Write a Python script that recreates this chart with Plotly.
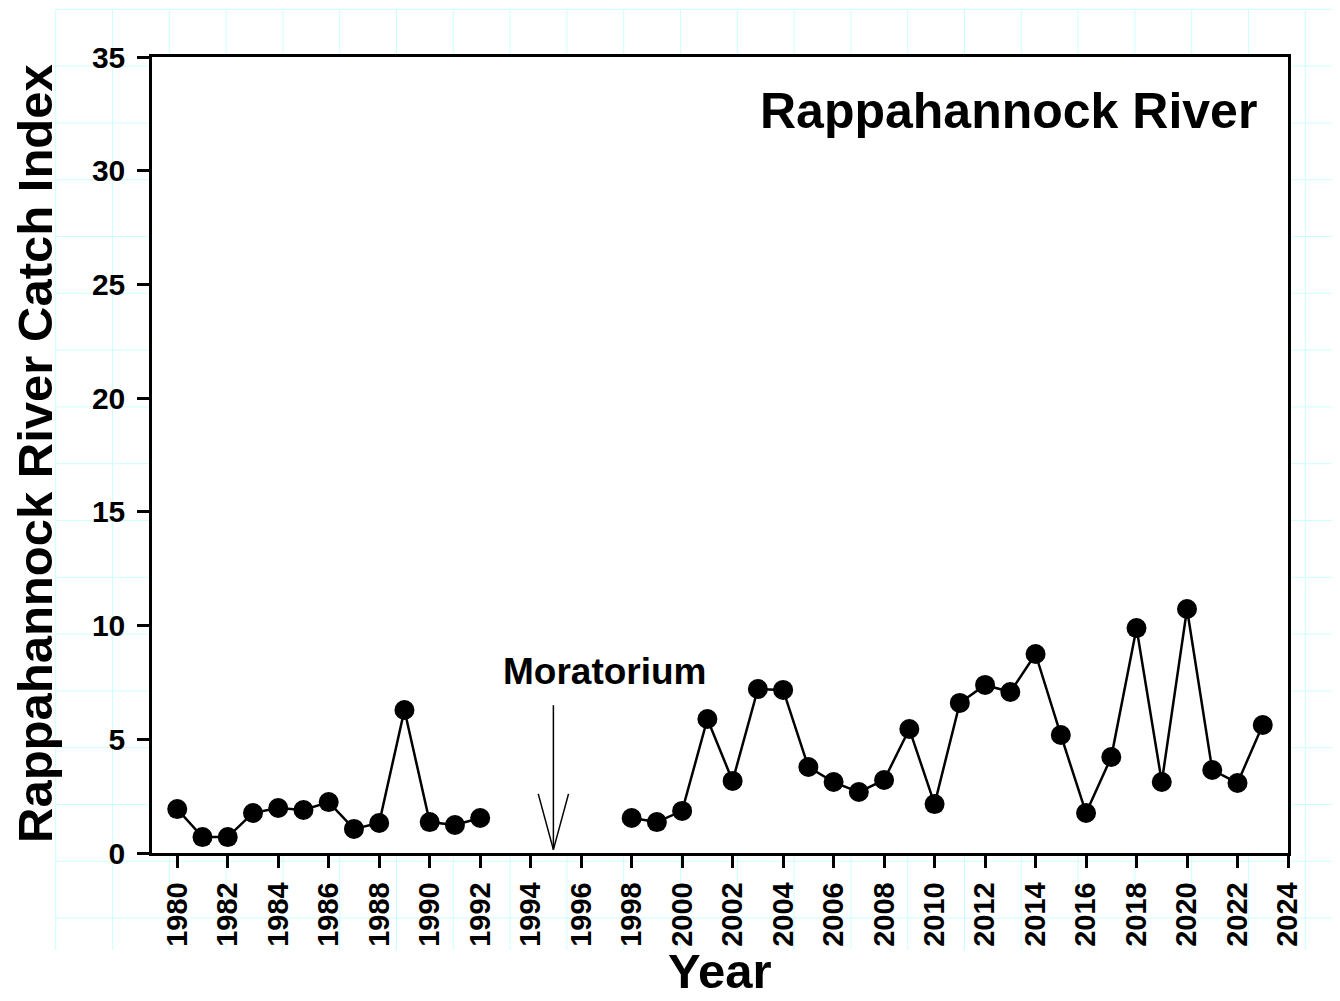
import plotly.graph_objects as go

years = [1980, 1981, 1982, 1983, 1984, 1985, 1986, 1987, 1988, 1989, 1990, 1991, 1992,
         1993, 1998, 1999, 2000, 2001, 2002, 2003, 2004, 2005, 2006, 2007, 2008, 2009,
         2010, 2011, 2012, 2013, 2014, 2015, 2016, 2017, 2018, 2019, 2020, 2021, 2022, 2023]
catch_index = [1.93, 0.70, 0.70, 1.76, 1.98, 1.89, 2.24, 1.06, 1.32, 6.29, 1.36, 1.23, 1.54,
               None, 1.54, 1.36, 1.85, 5.89, 3.17, 7.21, 7.17, 3.78, 3.12, 2.68, 3.21, 5.45,
               2.15, 6.60, 7.39, 7.08, 8.75, 5.19, 1.76, 4.22, 9.89, 3.12, 10.73, 3.65, 3.08, 5.63]

x_ticks = list(range(1980, 2025, 2))
y_ticks = [0, 5, 10, 15, 20, 25, 30, 35]

FONT = "Arial, 'Liberation Sans', sans-serif"
OFF = 8  # page body margin
W, H = 1340 - OFF, 1001 - OFF
# plot area in screen pixels
L, R, T, B = 152, 1288, 57, 853
PW, PH = R - L, B - T


def px_to_paper_x(px):
    return (px - L) / PW


def px_to_paper_y(py):
    return (B - py) / PH


fig = go.Figure()
fig.add_trace(go.Scatter(
    x=years, y=catch_index, mode="lines+markers",
    line=dict(color="black", width=2.5),
    marker=dict(color="black", size=20),
    connectgaps=False, showlegend=False,
))

shapes = []
# page grid (background)
grid_col = "#ccffff"
step = 56.8
gx0, gy0, gx_end, gy_end = 55.7, 9.3, 1340, 950
k = 0
while gx0 + k * step <= 1310:
    px = gx0 + k * step
    shapes.append(dict(type="line", xref="paper", yref="paper", layer="below",
                       x0=px_to_paper_x(px), x1=px_to_paper_x(px),
                       y0=px_to_paper_y(gy0), y1=px_to_paper_y(gy_end),
                       line=dict(color=grid_col, width=1)))
    k += 1
k = 0
while gy0 + k * step <= gy_end:
    py = gy0 + k * step
    shapes.append(dict(type="line", xref="paper", yref="paper", layer="below",
                       x0=px_to_paper_x(gx0), x1=px_to_paper_x(gx_end),
                       y0=px_to_paper_y(py), y1=px_to_paper_y(py),
                       line=dict(color=grid_col, width=1)))
    k += 1
# white plot area over grid
shapes.append(dict(type="rect", xref="paper", yref="paper", layer="below",
                   x0=0, x1=1, y0=0, y1=1, fillcolor="white", line=dict(width=0)))

# Moratorium arrow
ax = 1994.9
shapes.append(dict(type="line", xref="x", yref="y", x0=ax, x1=ax, y0=6.5, y1=0.15,
                   line=dict(color="black", width=1.5)))
shapes.append(dict(type="line", xref="x", yref="y", x0=ax - 0.6, x1=ax, y0=2.6, y1=0.15,
                   line=dict(color="black", width=1.5)))
shapes.append(dict(type="line", xref="x", yref="y", x0=ax + 0.6, x1=ax, y0=2.6, y1=0.15,
                   line=dict(color="black", width=1.5)))

annotations = [
    dict(text="<b>Rappahannock River</b>", xref="paper", yref="paper",
         x=px_to_paper_x(1259), y=px_to_paper_y(111), xanchor="right", yanchor="middle",
         showarrow=False, font=dict(family=FONT, size=50, color="black")),
    dict(text="<b>Moratorium</b>", xref="x", yref="y", x=1996.95, y=8.0,
         xanchor="center", yanchor="middle", showarrow=False,
         font=dict(family=FONT, size=37, color="black")),
    dict(text="<b>Rappahannock River Catch Index</b>", xref="paper", yref="paper",
         x=px_to_paper_x(35), y=px_to_paper_y(454), textangle=-90,
         xanchor="center", yanchor="middle", showarrow=False, borderpad=0,
         font=dict(family=FONT, size=49, color="black")),
    dict(text="<b>Year</b>", xref="paper", yref="paper",
         x=px_to_paper_x(720), y=px_to_paper_y(971),
         xanchor="center", yanchor="middle", showarrow=False, borderpad=0,
         font=dict(family=FONT, size=49, color="black")),
]

fig.update_layout(
    width=W, height=H,
    margin=dict(l=L - OFF, r=W - (R - OFF), t=T - OFF, b=H - (B - OFF)),
    paper_bgcolor="white", plot_bgcolor="white",
    shapes=shapes, annotations=annotations,
    xaxis=dict(range=[1979, 2024], tickvals=x_ticks, ticktext=[str(v) for v in x_ticks],
               tickangle=-90, ticks="outside", ticklen=12, tickwidth=2.5, tickcolor="black",
               showline=True, linewidth=2.5, linecolor="black", mirror=True,
               showgrid=False, zeroline=False, ticklabelstandoff=3,
               tickfont=dict(family=FONT, size=29, color="black", weight="bold")),
    yaxis=dict(range=[0, 35], tickvals=y_ticks, ticks="outside", ticklen=12, tickwidth=2.5,
               tickcolor="black", showline=True, linewidth=2.5, linecolor="black", mirror=True,
               showgrid=False, zeroline=False, ticklabelstandoff=6,
               tickfont=dict(family=FONT, size=30, color="black", weight="bold")),
)

fig.write_html("out.html")
